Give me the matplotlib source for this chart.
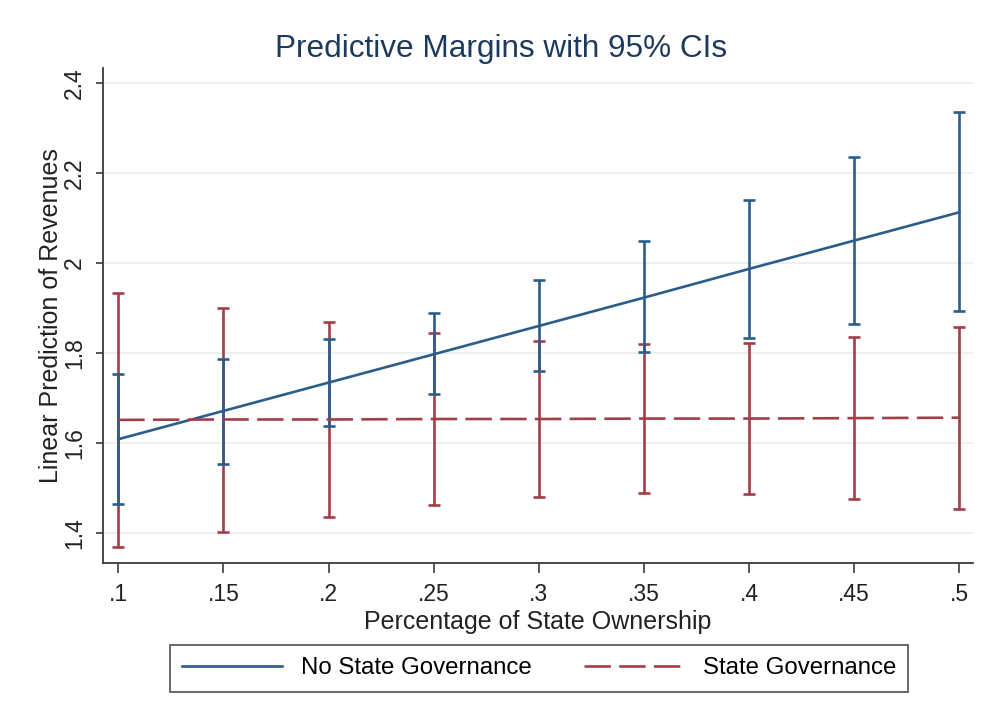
import numpy as np
import matplotlib
matplotlib.use('Agg')
import matplotlib.pyplot as plt

plt.rcParams['font.family'] = ['Liberation Sans', 'DejaVu Sans']
plt.rcParams['lines.scale_dashes'] = False

# predictive margins
ownership = np.array([.1, .15, .2, .25, .3, .35, .4, .45, .5])
no_gov = np.array([1.608, 1.671, 1.734, 1.797, 1.860, 1.923, 1.987, 2.050, 2.113])
no_gov_lo = np.array([1.464, 1.554, 1.638, 1.708, 1.760, 1.801, 1.834, 1.864, 1.893])
no_gov_hi = np.array([1.753, 1.787, 1.830, 1.888, 1.962, 2.048, 2.140, 2.237, 2.335])
gov = np.array([1.651, 1.652, 1.652, 1.653, 1.653, 1.654, 1.654, 1.655, 1.656])
gov_lo = np.array([1.368, 1.402, 1.434, 1.462, 1.480, 1.489, 1.487, 1.474, 1.452])
gov_hi = np.array([1.933, 1.899, 1.868, 1.844, 1.827, 1.819, 1.823, 1.836, 1.858])

xticks = [.1, .15, .2, .25, .3, .35, .4, .45, .5]
xtick_labels = ['.1', '.15', '.2', '.25', '.3', '.35', '.4', '.45', '.5']
yticks = [1.4, 1.6, 1.8, 2.0, 2.2, 2.4]
ytick_labels = ['1.4', '1.6', '1.8', '2', '2.2', '2.4']

blue = '#2c5d8a'
red = '#a23e48'
axis_col = '#3a3a3a'

fig = plt.figure(figsize=(9.86, 7.23), dpi=100)
ax = fig.add_axes([0.10416, 0.22089, 0.88266, 0.68507])

ax.errorbar(ownership, gov, yerr=[gov - gov_lo, gov_hi - gov], fmt='none',
            ecolor=red, elinewidth=1.9, capsize=4.3, capthick=1.9, zorder=3)
ax.errorbar(ownership, no_gov, yerr=[no_gov - no_gov_lo, no_gov_hi - no_gov], fmt='none',
            ecolor=blue, elinewidth=1.9, capsize=4.3, capthick=1.9, zorder=3)
ax.plot(ownership, no_gov, color=blue, lw=1.9, label='No State Governance', zorder=4)
ax.plot(ownership, gov, color=red, lw=1.9, dashes=(19, 6), label='State Governance', zorder=4)

ax.set_xlim(0.0926, 0.5065)
ax.set_ylim(1.332, 2.434)
ax.set_xticks(xticks)
ax.set_xticklabels(xtick_labels)
ax.set_yticks(yticks)
ax.set_yticklabels(ytick_labels)
for lbl in ax.get_yticklabels():
    lbl.set_rotation(90)
    lbl.set_va('center')

ax.grid(axis='y', color='#e8eff2', lw=1.3, zorder=0)
ax.grid(axis='x', visible=False)
for s in ['top', 'right']:
    ax.spines[s].set_visible(False)
for s in ['left', 'bottom']:
    ax.spines[s].set_color(axis_col)
    ax.spines[s].set_linewidth(1.3)
ax.tick_params(axis='x', length=7, width=1.2, color=axis_col, labelsize=16.5, pad=7, labelcolor='#222222')
ax.tick_params(axis='y', length=5, width=1.2, color=axis_col, labelsize=16.5, pad=7, labelcolor='#222222')

ax.set_xlabel('Percentage of State Ownership', fontsize=18, color='#222222', labelpad=3)
ax.set_ylabel('Linear Prediction of Revenues', fontsize=18, color='#222222', labelpad=0)

fig.text(501.5 / 986, 1 - 57.3 / 723, 'Predictive Margins with 95% CIs', fontsize=22.7,
         color='#1c3a5e', ha='center', va='baseline')

handles, labels = ax.get_legend_handles_labels()
leg = fig.legend(handles, labels, loc='center', bbox_to_anchor=(539 / 986, 1 - 668.5 / 723),
                 ncol=2, fontsize=17.3, frameon=True, fancybox=False, handlelength=4.2,
                 handletextpad=0.75, columnspacing=2.2, borderpad=0.5)
leg.get_frame().set_edgecolor('#333333')
leg.get_frame().set_linewidth(1.3)

fig.savefig('out.png', dpi=100)
